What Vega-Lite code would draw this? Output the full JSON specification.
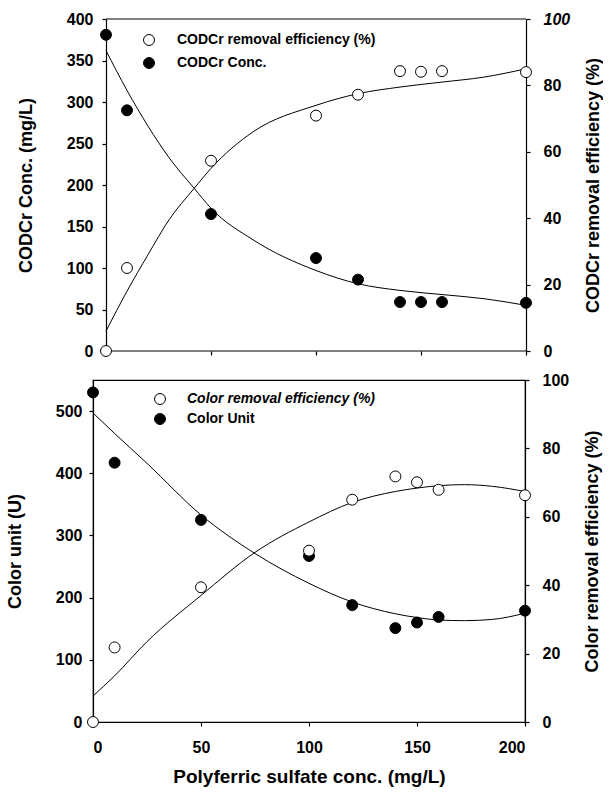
{
  "$schema": "https://vega.github.io/schema/vega-lite/v6.json",
  "padding": {"left": 5, "top": 11, "right": 0, "bottom": 5},
  "config": {
    "font": "Liberation Sans",
    "view": {"stroke": "black", "strokeWidth": 1.2},
    "axis": {
      "grid": false, "domainColor": "black", "domainWidth": 1.2, "tickColor": "black", "tickWidth": 1.2, "tickSize": 4,
      "labelColor": "black", "titleColor": "black", "labelFont": "Liberation Sans", "labelFontWeight": "bold", "labelFontSize": 16,
      "titleFont": "Liberation Sans", "titleFontWeight": "bold", "titleFontSize": 18, "labelPadding": 7
    },
    "legend": {
      "labelFont": "Liberation Sans", "labelFontWeight": "bold", "labelFontSize": 14, "labelColor": "black", "labelLimit": 0,
      "symbolType": "circle", "symbolSize": 120, "symbolStrokeColor": "black", "symbolStrokeWidth": 1
    }
  },
  "vconcat": [
    {
      "width": 433, "height": 332,
      "view": {"stroke": null},
      "layer": [
        {
          "layer": [
            {
              "data": {"values": [{}]},
              "mark": {"type": "rule", "color": "black", "strokeWidth": 1.2},
              "encoding": {"x": {"datum": 0}, "x2": {"datum": 200}, "y": {"datum": 0}}
            },
            {
              "data": {"values": [{}]},
              "mark": {"type": "rule", "color": "black", "strokeWidth": 1.2},
              "encoding": {"x": {"datum": 0}, "x2": {"datum": 200}, "y": {"datum": 400}}
            },
            {
              "data": {"values": [
                {"x": 0, "y": 362}, {"x": 10, "y": 314}, {"x": 20, "y": 271}, {"x": 30, "y": 233}, {"x": 42, "y": 196},
                {"x": 50, "y": 172}, {"x": 70, "y": 134}, {"x": 100, "y": 97}, {"x": 120, "y": 81}, {"x": 140, "y": 73},
                {"x": 160, "y": 68}, {"x": 180, "y": 63}, {"x": 200, "y": 55}
              ]},
              "mark": {"type": "line", "color": "black", "strokeWidth": 1, "interpolate": "monotone"},
              "encoding": {
                "x": {"field": "x", "type": "quantitative", "scale": {"domain": [-6.19, 200], "nice": false, "zero": false}, "axis": {"values": [0, 50, 100, 150, 200], "labels": false, "title": null, "domain": false}},
                "y": {"field": "y", "type": "quantitative", "scale": {"domain": [0, 400]}}
              }
            },
            {
              "data": {"values": [
                {"x": 0, "y": 381, "s": "CODCr Conc."}, {"x": 10, "y": 290, "s": "CODCr Conc."}, {"x": 50, "y": 165, "s": "CODCr Conc."},
                {"x": 100, "y": 112, "s": "CODCr Conc."}, {"x": 120, "y": 86, "s": "CODCr Conc."}, {"x": 140, "y": 59, "s": "CODCr Conc."},
                {"x": 150, "y": 59, "s": "CODCr Conc."}, {"x": 160, "y": 59, "s": "CODCr Conc."}, {"x": 200, "y": 58, "s": "CODCr Conc."}
              ]},
              "mark": {"type": "point", "shape": "circle", "filled": true, "size": 120, "stroke": "black", "strokeWidth": 1, "opacity": 1},
              "encoding": {
                "x": {"field": "x", "type": "quantitative"},
                "y": {"field": "y", "type": "quantitative", "axis": {"values": [0, 50, 100, 150, 200, 250, 300, 350, 400], "title": "CODCr Conc. (mg/L)", "offset": -13, "titlePadding": 31, "labelPadding": 9}},
                "fill": {"field": "s", "type": "nominal", "scale": {"domain": ["CODCr removal efficiency (%)", "CODCr Conc."], "range": ["white", "black"]},
                  "legend": {"title": null, "orient": "none", "legendX": 49, "legendY": 14, "labelOffset": 21, "rowPadding": 7}}
              }
            }
          ]
        },
        {
          "layer": [
            {
              "data": {"values": [
                {"x": 0, "y": 6}, {"x": 10, "y": 18}, {"x": 20, "y": 29}, {"x": 30, "y": 39.5}, {"x": 42, "y": 49},
                {"x": 50, "y": 55}, {"x": 70, "y": 66}, {"x": 100, "y": 74}, {"x": 120, "y": 77.5}, {"x": 140, "y": 79.5},
                {"x": 160, "y": 81}, {"x": 180, "y": 82.5}, {"x": 200, "y": 85}
              ]},
              "mark": {"type": "line", "color": "black", "strokeWidth": 1, "interpolate": "monotone"},
              "encoding": {
                "x": {"field": "x", "type": "quantitative"},
                "y": {"field": "y", "type": "quantitative", "scale": {"domain": [0, 100]}}
              }
            },
            {
              "data": {"values": [
                {"x": 0, "y": 0, "s": "CODCr removal efficiency (%)"}, {"x": 10, "y": 25, "s": "CODCr removal efficiency (%)"},
                {"x": 50, "y": 57.3, "s": "CODCr removal efficiency (%)"}, {"x": 100, "y": 70.9, "s": "CODCr removal efficiency (%)"},
                {"x": 120, "y": 77.2, "s": "CODCr removal efficiency (%)"}, {"x": 140, "y": 84.3, "s": "CODCr removal efficiency (%)"},
                {"x": 150, "y": 84.1, "s": "CODCr removal efficiency (%)"}, {"x": 160, "y": 84.3, "s": "CODCr removal efficiency (%)"},
                {"x": 200, "y": 84, "s": "CODCr removal efficiency (%)"}
              ]},
              "mark": {"type": "point", "shape": "circle", "filled": true, "size": 120, "stroke": "black", "strokeWidth": 1, "opacity": 1},
              "encoding": {
                "x": {"field": "x", "type": "quantitative"},
                "y": {"field": "y", "type": "quantitative", "axis": {"orient": "right", "values": [0, 20, 40, 60, 80, 100], "title": "CODCr removal efficiency (%)", "titleAngle": 270, "titlePadding": 33, "labelPadding": 13,
                  "labelFontStyle": {"expr": "datum.value == 100 ? 'italic' : 'normal'"}}},
                "fill": {"field": "s", "type": "nominal"}
              }
            }
          ]
        }
      ],
      "resolve": {"scale": {"y": "independent"}}
    },
    {
      "width": 432, "height": 342,
      "layer": [
        {
          "layer": [
            {
              "data": {"values": [
                {"x": 0, "y": 497}, {"x": 10, "y": 464}, {"x": 25, "y": 416}, {"x": 50, "y": 333}, {"x": 75, "y": 271},
                {"x": 100, "y": 223}, {"x": 120, "y": 193}, {"x": 140, "y": 174}, {"x": 150, "y": 168}, {"x": 160, "y": 164},
                {"x": 172, "y": 163}, {"x": 185, "y": 165}, {"x": 200, "y": 175}
              ]},
              "mark": {"type": "line", "color": "black", "strokeWidth": 1, "interpolate": "monotone"},
              "encoding": {
                "x": {"field": "x", "type": "quantitative", "scale": {"domain": [0, 200]}, "axis": {"values": [0, 50, 100, 150, 200], "title": "Polyferric sulfate conc. (mg/L)", "titleFontSize": 19, "labelPadding": 13, "titlePadding": 12}},
                "y": {"field": "y", "type": "quantitative", "scale": {"domain": [0, 548]}}
              }
            },
            {
              "data": {"values": [
                {"x": 0, "y": 530, "s": "Color Unit"}, {"x": 10, "y": 417, "s": "Color Unit"}, {"x": 50, "y": 325, "s": "Color Unit"},
                {"x": 100, "y": 267, "s": "Color Unit"}, {"x": 120, "y": 188, "s": "Color Unit"}, {"x": 140, "y": 151, "s": "Color Unit"},
                {"x": 150, "y": 160, "s": "Color Unit"}, {"x": 160, "y": 169, "s": "Color Unit"}, {"x": 200, "y": 179, "s": "Color Unit"}
              ]},
              "mark": {"type": "point", "shape": "circle", "filled": true, "size": 120, "stroke": "black", "strokeWidth": 1, "opacity": 1},
              "encoding": {
                "x": {"field": "x", "type": "quantitative"},
                "y": {"field": "y", "type": "quantitative", "axis": {"values": [0, 100, 200, 300, 400, 500], "title": "Color unit (U)", "titlePadding": 31}},
                "fill": {"field": "s", "type": "nominal", "scale": {"domain": ["Color removal efficiency (%)", "Color Unit"], "range": ["white", "black"]},
                  "legend": {"title": null, "orient": "none", "legendX": 60, "legendY": 12, "labelOffset": 20, "rowPadding": 4,
                    "labelFontStyle": {"expr": "datum.label == 'Color Unit' ? 'normal' : 'italic'"}}}
              }
            }
          ]
        },
        {
          "layer": [
            {
              "data": {"values": [
                {"x": 0, "y": 7.6}, {"x": 10, "y": 13.5}, {"x": 25, "y": 23.5}, {"x": 50, "y": 37}, {"x": 75, "y": 49.6},
                {"x": 100, "y": 58.5}, {"x": 120, "y": 64.2}, {"x": 140, "y": 67.4}, {"x": 150, "y": 68.4}, {"x": 160, "y": 69.1},
                {"x": 172, "y": 69.4}, {"x": 185, "y": 68.9}, {"x": 200, "y": 67.4}
              ]},
              "mark": {"type": "line", "color": "black", "strokeWidth": 1, "interpolate": "monotone"},
              "encoding": {
                "x": {"field": "x", "type": "quantitative"},
                "y": {"field": "y", "type": "quantitative", "scale": {"domain": [0, 100]}}
              }
            },
            {
              "data": {"values": [
                {"x": 0, "y": 0, "s": "Color removal efficiency (%)"}, {"x": 10, "y": 21.8, "s": "Color removal efficiency (%)"},
                {"x": 50, "y": 39.4, "s": "Color removal efficiency (%)"}, {"x": 100, "y": 50.1, "s": "Color removal efficiency (%)"},
                {"x": 120, "y": 65, "s": "Color removal efficiency (%)"}, {"x": 140, "y": 71.8, "s": "Color removal efficiency (%)"},
                {"x": 150, "y": 70.1, "s": "Color removal efficiency (%)"}, {"x": 160, "y": 67.9, "s": "Color removal efficiency (%)"},
                {"x": 200, "y": 66.3, "s": "Color removal efficiency (%)"}
              ]},
              "mark": {"type": "point", "shape": "circle", "filled": true, "size": 120, "stroke": "black", "strokeWidth": 1, "opacity": 1},
              "encoding": {
                "x": {"field": "x", "type": "quantitative"},
                "y": {"field": "y", "type": "quantitative", "axis": {"orient": "right", "values": [0, 20, 40, 60, 80, 100], "title": "Color removal efficiency (%)", "titleAngle": 270, "titlePadding": 33, "labelPadding": 13}},
                "fill": {"field": "s", "type": "nominal"}
              }
            }
          ]
        }
      ],
      "resolve": {"scale": {"y": "independent"}}
    }
  ],
  "spacing": 12,
  "resolve": {"scale": {"fill": "independent"}, "legend": {"fill": "independent"}}
}
